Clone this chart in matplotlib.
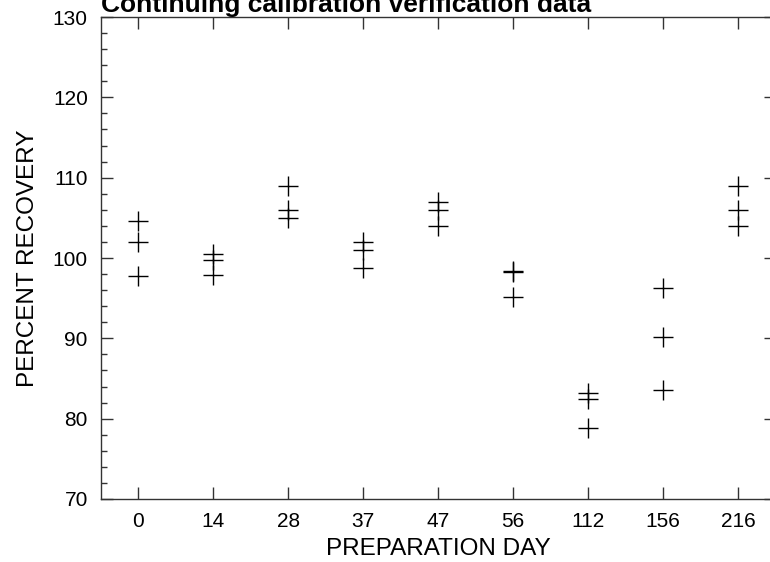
import numpy as np
import matplotlib
matplotlib.use('Agg')
import matplotlib.pyplot as plt
from matplotlib.ticker import MultipleLocator

# ---------- Dati ----------
days = ['0', '14', '28', '37', '47', '56', '112', '156', '216']
recovery_a = [104.6, 100.5, 109.0, 102.0, 107.0, 98.4, 83.2, 96.3, 109.0]
recovery_b = [102.0, 99.8, 106.0, 101.0, 106.0, 98.2, 82.4, 90.2, 106.0]
recovery_c = [97.7, 97.9, 105.0, 98.7, 104.0, 95.1, 78.8, 83.6, 104.0]

plt.rcParams['font.family'] = ['Liberation Sans', 'DejaVu Sans']

fig = plt.figure(figsize=(7.7, 5.62), dpi=100)
ax = fig.add_axes([101 / 770, 63 / 562, 674.5 / 770, 482 / 562])

x = np.arange(len(days))
for serie in (recovery_a, recovery_b, recovery_c):
    ax.plot(x, serie, linestyle='none', marker='+', color='black',
            markersize=14, markeredgewidth=1.0, clip_on=False)

ax.set_xlim(-0.5, len(days) - 0.5)
ax.set_ylim(70, 130)
ax.set_xticks(x)
ax.set_xticklabels(days)
ax.yaxis.set_major_locator(MultipleLocator(10))
ax.yaxis.set_minor_locator(MultipleLocator(2))

ax.tick_params(axis='both', which='major', direction='in', length=8.6, width=1.0,
               color='#333333', labelsize=15, pad=9.5)
ax.tick_params(axis='y', which='minor', direction='in', length=4.3, width=1.0,
               color='#333333')
ax.tick_params(axis='y', which='both', right=True)
ax.tick_params(axis='x', which='both', top=True)

for s in ax.spines.values():
    s.set_color('#333333')
    s.set_linewidth(1.0)

ax.set_xlabel('PREPARATION DAY', fontsize=17.5, labelpad=5)
ax.set_ylabel('PERCENT RECOVERY', fontsize=17.5, labelpad=10)
ax.set_title('Continuing calibration verification data', loc='left',
             fontsize=19, fontweight='bold', pad=3.6)

fig.savefig('out.png', dpi=100)
